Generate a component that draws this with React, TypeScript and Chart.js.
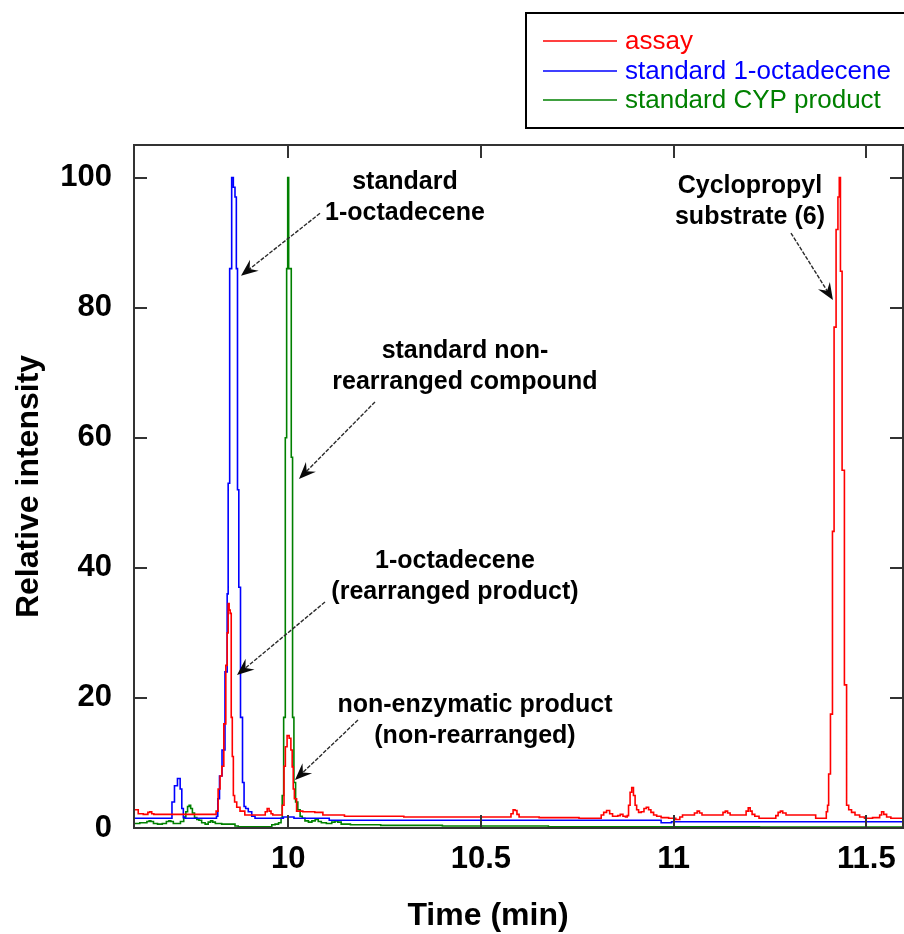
import React, { useEffect, useRef } from 'react';
import { Chart, registerables } from 'chart.js';

Chart.register(...registerables);

// ---------- data ----------
const seriesLabels = ['assay', 'standard 1-octadecene', 'standard CYP product'];
const seriesColors = ['#ff0000', '#0000ff', '#008000'];

const assayTime = [
  9.6, 9.608, 9.614, 9.634, 9.638, 9.644, 9.648, 9.655, 9.81, 9.816, 9.8205, 9.826, 9.83, 9.836,
  9.8404, 9.843, 9.8456, 9.848, 9.851, 9.8535, 9.8565, 9.859, 9.863, 9.87, 9.88, 9.895,
  9.938, 9.943, 9.948, 9.953, 9.958, 9.962,
  9.982, 9.9873, 9.991, 9.9943, 10.0, 10.005, 10.009, 10.0117, 10.0145, 10.0176,
  10.026, 10.05, 10.088, 10.092, 10.2, 10.4,
  10.575, 10.581, 10.586, 10.591, 10.596, 10.602, 10.7, 10.809,
  10.815, 10.822, 10.83, 10.838, 10.845, 10.852, 10.858, 10.865, 10.872, 10.878,
  10.881, 10.885, 10.889, 10.8935, 10.898, 10.902, 10.906, 10.912, 10.92, 10.926, 10.932, 10.938,
  10.944, 10.952, 10.96, 10.975, 10.999, 11.012, 11.02, 11.026, 11.05, 11.058, 11.064, 11.07,
  11.077, 11.125, 11.131, 11.137, 11.143, 11.15, 11.185, 11.191, 11.196, 11.201, 11.206, 11.215,
  11.228, 11.262, 11.268, 11.274, 11.28, 11.286, 11.297, 11.362, 11.375, 11.394, 11.398, 11.4006,
  11.4036, 11.41, 11.414, 11.4184, 11.4244, 11.428, 11.4314, 11.434, 11.44, 11.446, 11.4513,
  11.457, 11.466, 11.475, 11.49, 11.5, 11.532, 11.537, 11.542, 11.548, 11.557, 11.57, 11.595,
];
const assayValue = [
  2.8, 2.8, 2.2, 2.1, 2.4, 2.5, 2.2, 2.1, 2.1, 2.6, 6, 8, 9.5, 16,
  25, 30, 34.5, 33.5, 33, 17, 11, 5, 4, 3.2, 2.6, 2.0,
  2.0, 2.5, 3.0, 2.6, 2.2, 2.0,
  2.0, 3.5, 9.5, 12.5, 14.2, 13.8, 12, 9.4, 6, 4.5,
  2.6, 2.5, 2.4, 2.0, 1.8, 1.7,
  1.7, 2.2, 2.8, 2.7, 2.1, 1.7, 1.6, 1.5,
  2.0, 2.4, 2.7, 2.2, 1.8, 1.8, 1.9, 2.1, 1.8, 1.7,
  1.9, 3.5, 5.5, 6.2, 5.0, 3.5, 2.8, 2.4, 2.5, 3.0, 3.2, 2.8,
  2.4, 2.0, 1.8, 1.6, 1.5, 1.3, 1.7, 2.0, 2.0, 2.3, 2.6, 2.3,
  2.0, 2.0, 2.4, 2.6, 2.3, 2.0, 2.0, 2.6, 3.1, 2.6, 2.1, 1.8,
  1.5, 1.5, 1.9, 2.4, 2.6, 2.3, 2.0, 2.0, 1.5, 1.5, 2.5, 3.5,
  8.3, 17.5, 45.6, 77, 92, 97, 100, 85.6, 55, 22, 3.5,
  2.8, 2.4, 2.0, 1.7, 1.5, 1.6, 2.0, 2.5, 2.1, 1.7, 1.5, 1.5,
];

const octadeceneTime = [
  9.6, 9.695, 9.702, 9.708, 9.7175, 9.722, 9.726, 9.73, 9.735, 9.812, 9.816, 9.8187, 9.825, 9.8317,
  9.8404, 9.843, 9.8456, 9.8508, 9.856, 9.8594, 9.8646, 9.8664, 9.8706, 9.8732, 9.8794, 9.8836,
  9.8875, 9.892, 9.901, 9.91, 9.918, 9.985, 9.99, 10.01, 10.02, 10.105, 10.108, 10.965, 10.97,
  10.99, 10.999, 11.595,
];
const octadeceneValue = [
  1.5, 1.5, 4.0, 6.5, 7.6, 6.0, 3.0, 1.6, 1.5, 1.5, 1.8, 4.5, 8, 12,
  24, 36, 53, 86, 100, 98.5, 97, 86, 52, 37, 17, 7,
  3.3, 3.0, 2.5, 1.8, 1.5, 1.5, 1.7, 1.7, 1.5, 1.5, 1.2, 1.2, 0.8,
  0.8, 0.95, 0.95,
];

const cypTime = [
  9.6, 9.63, 9.637, 9.6415, 9.646, 9.655, 9.667, 9.68, 9.688, 9.693, 9.698, 9.706, 9.715, 9.726,
  9.732, 9.737, 9.741, 9.745, 9.749, 9.754, 9.76, 9.766, 9.771, 9.78, 9.789, 9.796, 9.8015, 9.807,
  9.815, 9.84, 9.858, 9.866, 9.875, 9.953, 9.962, 9.97, 9.98, 9.983, 9.986, 9.9905, 9.9945,
  9.9975, 10.0, 10.0025, 10.0065, 10.0095, 10.0132, 10.0165, 10.022, 10.028, 10.034, 10.039,
  10.048, 10.057, 10.066, 10.074, 10.082, 10.09, 10.108, 10.118, 10.125, 10.132, 10.143, 10.18,
  10.3, 10.5, 10.85, 11.595,
];
const cypValue = [
  0.7, 0.8, 1.0, 1.1, 1.0, 0.7, 0.6, 0.7, 1.0, 1.1, 1.0, 0.7, 0.7, 1.0,
  1.7, 2.5, 3.3, 3.5, 3.0, 2.3, 1.6, 1.3, 1.2, 0.8, 0.6, 0.9, 1.1, 0.9,
  0.7, 0.6, 0.6, 0.3, 0.2, 0.2, 0.5, 0.6, 0.8, 1.5, 5, 17, 60,
  86, 100, 86, 86, 57, 17, 7, 4.0, 2.8, 1.8, 1.5,
  1.1, 0.9, 1.1, 1.3, 1.0, 0.8, 0.7, 0.9, 1.1, 0.9, 0.6, 0.5,
  0.4, 0.3, 0.2, 0.15,
];

const xTicks = [10, 10.5, 11, 11.5];
const yTicks = [0, 20, 40, 60, 80, 100];

const annotationTexts = [
  ['standard', '1-octadecene'],
  ['standard non-', 'rearranged compound'],
  ['1-octadecene', '(rearranged product)'],
  ['non-enzymatic product', '(non-rearranged)'],
  ['Cyclopropyl', 'substrate (6)'],
];
// text anchor (time, intensity), arrow tail, arrow head
const annotationAnchors = [
  [10.303, 99.3], [10.4586, 73.3], [10.4327, 41.05], [10.4846, 18.9], [11.198, 98.7],
];
const arrowTails = [
  [10.0825, 94.5], [10.2252, 65.5], [10.0955, 34.74], [10.1811, 16.6], [11.3043, 91.47],
];
const arrowHeads = [
  [9.8776, 84.9], [10.028, 53.65], [9.8672, 23.52], [10.0176, 7.38], [11.4132, 81.17],
];

const FONT = '"Liberation Sans", Arial, Helvetica, sans-serif';

function toPoints(t: number[], v: number[]) {
  return t.map((x, i) => ({ x, y: v[i] }));
}

const framePlugin = {
  id: 'frameTicks',
  afterDatasetsDraw(chart: any) {
    const { ctx, chartArea: a, scales } = chart;
    ctx.save();
    ctx.strokeStyle = '#333333';
    ctx.lineWidth = 2;
    ctx.strokeRect(a.left, a.top, a.right - a.left, a.bottom - a.top);
    const L = 13;
    ctx.beginPath();
    xTicks.forEach((v) => {
      const px = Math.round(scales.x.getPixelForValue(v));
      ctx.moveTo(px, a.bottom);
      ctx.lineTo(px, a.bottom - L);
      ctx.moveTo(px, a.top);
      ctx.lineTo(px, a.top + L);
    });
    yTicks.forEach((v) => {
      const py = Math.round(scales.y.getPixelForValue(v));
      ctx.moveTo(a.left, py);
      ctx.lineTo(a.left + L, py);
      ctx.moveTo(a.right, py);
      ctx.lineTo(a.right - L, py);
    });
    ctx.stroke();
    ctx.restore();
  },
};

const annotationPlugin = {
  id: 'peakAnnotations',
  afterDraw(chart: any) {
    const { ctx, scales } = chart;
    const xs = scales.x;
    const ys = scales.y;
    ctx.save();
    // text
    ctx.fillStyle = '#000000';
    ctx.font = `bold 25px ${FONT}`;
    ctx.textAlign = 'center';
    ctx.textBaseline = 'middle';
    annotationTexts.forEach((lines, i) => {
      const cx = xs.getPixelForValue(annotationAnchors[i][0]);
      const cy = ys.getPixelForValue(annotationAnchors[i][1]);
      lines.forEach((ln, j) => ctx.fillText(ln, cx, cy + j * 31));
    });
    // arrows
    annotationTexts.forEach((_, i) => {
      const x1 = xs.getPixelForValue(arrowTails[i][0]);
      const y1 = ys.getPixelForValue(arrowTails[i][1]);
      const x2 = xs.getPixelForValue(arrowHeads[i][0]);
      const y2 = ys.getPixelForValue(arrowHeads[i][1]);
      const ang = Math.atan2(y2 - y1, x2 - x1);
      const ux = Math.cos(ang);
      const uy = Math.sin(ang);
      const px = -uy;
      const py = ux;
      ctx.strokeStyle = '#2a2a2a';
      ctx.lineWidth = 1.4;
      ctx.setLineDash([4, 1.5]);
      ctx.beginPath();
      ctx.moveTo(x1, y1);
      ctx.lineTo(x2 - ux * 8, y2 - uy * 8);
      ctx.stroke();
      ctx.setLineDash([]);
      const len = 17;
      const w = 7;
      ctx.fillStyle = '#0a0a0a';
      ctx.beginPath();
      ctx.moveTo(x2, y2);
      ctx.lineTo(x2 - ux * len + px * w, y2 - uy * len + py * w);
      ctx.lineTo(x2 - ux * (len - 6), y2 - uy * (len - 6));
      ctx.lineTo(x2 - ux * len - px * w, y2 - uy * len - py * w);
      ctx.closePath();
      ctx.fill();
    });
    // x-axis title
    ctx.fillStyle = '#000000';
    ctx.font = `bold 32px ${FONT}`;
    ctx.textAlign = 'center';
    ctx.textBaseline = 'middle';
    ctx.fillText('Time (min)', 488, 916);
    // legend box
    ctx.strokeStyle = '#000000';
    ctx.lineWidth = 2;
    ctx.strokeRect(526, 13, 400, 115);
    ctx.font = `26px ${FONT}`;
    ctx.textAlign = 'left';
    const rows = [41, 71, 100];
    chart.data.datasets.forEach((ds: any, i: number) => {
      ctx.strokeStyle = ds.borderColor;
      ctx.lineWidth = 1.5;
      ctx.beginPath();
      ctx.moveTo(543, rows[i]);
      ctx.lineTo(617, rows[i]);
      ctx.stroke();
      ctx.fillStyle = ds.borderColor;
      ctx.fillText(ds.label, 625, rows[i] + 1);
    });
    ctx.restore();
  },
};

export default function App() {
  const canvasRef = useRef<HTMLCanvasElement | null>(null);

  useEffect(() => {
    if (!canvasRef.current) return;
    const series = [
      toPoints(assayTime, assayValue),
      toPoints(octadeceneTime, octadeceneValue),
      toPoints(cypTime, cypValue),
    ];
    const chart = new Chart(canvasRef.current, {
      type: 'line',
      data: {
        datasets: series.map((pts, i) => ({
          label: seriesLabels[i],
          data: pts,
          borderColor: seriesColors[i],
          backgroundColor: seriesColors[i],
          borderWidth: 1.6,
          pointRadius: 0,
          stepped: 'middle',
          fill: false,
        })),
      },
      options: {
        animation: false,
        responsive: false,
        devicePixelRatio: 1,
        layout: { padding: { top: 145, right: 1, left: 0, bottom: 0 } },
        plugins: {
          legend: { display: false },
          tooltip: { enabled: false },
        },
        scales: {
          x: {
            type: 'linear',
            min: 9.6,
            max: 11.595,
            grid: { display: false, drawTicks: false },
            border: { display: false },
            afterBuildTicks: (s: any) => {
              s.ticks = xTicks.map((v) => ({ value: v }));
            },
            afterFit: (s: any) => {
              s.height = 106;
              s.paddingLeft = 0;
              s.paddingRight = 0;
            },
            ticks: {
              autoSkip: false,
              maxRotation: 0,
              padding: 13,
              color: '#000000',
              font: { family: FONT, size: 31, weight: 'bold' },
              callback: (v: any) => String(v),
            },
          },
          y: {
            min: 0,
            max: 105,
            grid: { display: false, drawTicks: false },
            border: { display: false },
            afterBuildTicks: (s: any) => {
              s.ticks = yTicks.map((v) => ({ value: v }));
            },
            afterFit: (s: any) => {
              s.width = 134;
              s.paddingTop = 0;
              s.paddingBottom = 0;
            },
            ticks: {
              padding: 22,
              color: '#000000',
              font: { family: FONT, size: 31, weight: 'bold' },
              callback: (v: any) => String(v),
            },
            title: {
              display: true,
              text: 'Relative intensity',
              color: '#000000',
              font: { family: FONT, size: 32, weight: 'bold' },
              padding: { top: 10, bottom: 0 },
            },
          },
        },
      },
      plugins: [framePlugin, annotationPlugin],
    });
    return () => chart.destroy();
  }, []);

  return (
    <div style={{ position: 'absolute', left: 0, top: 0, width: 904, height: 934, background: '#ffffff' }}>
      <canvas ref={canvasRef} width={904} height={934} style={{ display: 'block' }} />
    </div>
  );
}
